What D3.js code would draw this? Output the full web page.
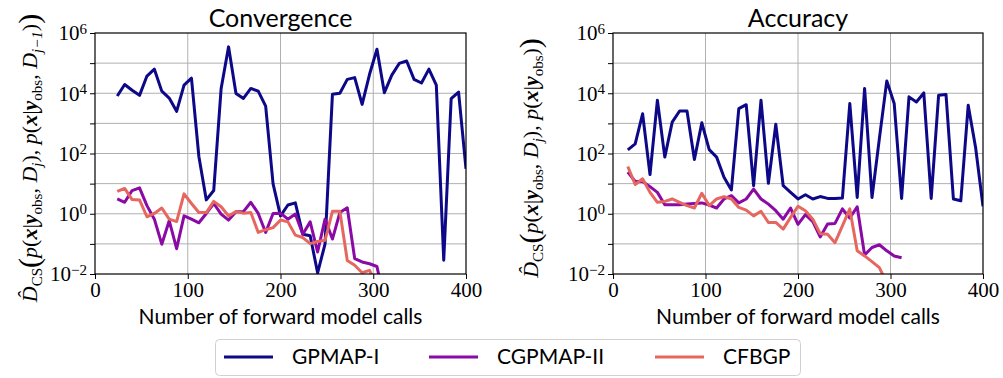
<!DOCTYPE html>
<html lang="en">
<head>
<meta charset="UTF-8">
<title>Convergence / Accuracy</title>
<script src="https://cdn.jsdelivr.net/npm/d3@7"></script>
<style>
body { margin: 0; background: #fff; }
svg { display: block; }
.sans { font-family: Lato, 'Open Sans', sans-serif; fill: #000; }
.num { font-family: 'Liberation Serif', serif; font-size: 21px; fill: #000; }
.math { font-family: 'Liberation Serif', serif; font-size: 22px; fill: #000; }
</style>
</head>
<body>
<script>
// values are log10 of D_CS
// left panel: "Convergence"
const convCalls = [24, 32, 40, 48, 56, 64, 72, 80, 88, 96, 104, 112, 120, 128, 136, 144, 152, 160, 168, 176,
  184, 192, 200, 208, 216, 224, 232, 240, 248, 256, 264, 272, 280, 288, 296, 304, 312, 320, 328, 336,
  344, 352, 360, 368, 376, 384, 392, 400];
const convGpmap = [3.91, 4.29, 4.1, 3.93, 4.57, 4.8, 4.07, 3.84, 3.4, 4.27, 4.5, 1.9, 0.46, 0.77, 4.16, 5.54,
  3.99, 3.83, 4.16, 4.07, 3.57, 0.99, -0.07, 0.29, 0.36, -0.68, -0.73, -1.96, -1.01, 3.97, 4.0, 4.46,
  4.52, 3.63, 4.63, 5.46, 4.02, 4.6, 4.99, 5.07, 4.46, 4.34, 4.8, 4.27, -1.54, 3.82, 4.04, 1.49];
const convCgpmap = [0.49, 0.38, 0.77, 0.86, 0.27, -0.18, -1.01, -0.23, -1.16, -0.07, -0.18, -0.3, 0.01, 0.34,
  -0.01, -0.21, 0.07, 0.07, 0.38, 0.01, -0.62, 0.01, 0.02, -0.18, -0.01, -0.68, -0.27, -1.27, -0.18,
  -0.84, 0.04, 0.2, -1.49, -1.6, -1.66, -1.75, -2.9];
const convCfbgp = [0.74, 0.84, 0.47, 0.46, -0.1, 0.01, 0.19, -0.18, -0.26, 0.66, 0.34, 0.04, 0.04, 0.41, 0.23,
  -0.07, 0.07, 0.02, 0.04, -0.62, -0.53, -0.46, -0.21, -0.27, -0.71, -0.79, -0.99, -0.92, -0.88, 0.08,
  0.08, -1.55, -1.71, -1.96, -1.88, -2.4];

// right panel: "Accuracy"
const accCalls = [16, 24, 32, 40, 48, 56, 64, 72, 80, 88, 96, 104, 112, 120, 128, 136, 144, 152, 160, 168,
  176, 184, 192, 200, 208, 216, 224, 232, 240, 248, 256, 264, 272, 280, 288, 296, 304, 312, 320, 328,
  336, 344, 352, 360, 368, 376, 384, 392, 400];
const accGpmap = [2.12, 2.32, 3.32, 1.3, 3.77, 1.88, 3.04, 3.41, 3.41, 1.8, 3.02, 2.13, 1.88, 1.21, 0.79, 3.49,
  3.62, 0.93, 3.77, 1.01, 2.97, 0.93, 0.71, 0.49, 0.63, 0.49, 0.57, 0.51, 0.51, 0.52, 3.66, 0.54, 4.16,
  0.54, 2.5, 4.41, 3.66, 0.51, 3.88, 3.71, 4.01, 0.51, 3.93, 3.96, 0.49, 0.43, 3.6, 2.2, 0.25];
const accCgpmap = [1.38, 1.07, 1.07, 0.9, 0.71, 0.3, 0.3, 0.3, 0.32, 0.34, 0.36, 0.29, 0.19, 0.49, 0.6, 0.36,
  0.49, 0.82, 0.49, 0.32, 0.1, -0.18, 0.19, -0.35, -0.03, -0.26, -0.77, -0.34, -0.32, 0.16, -0.14, 0.23,
  -1.37, -1.12, -1.03, -1.23, -1.4, -1.46];
const accCfbgp = [1.57, 0.97, 1.16, 0.71, 0.38, 0.41, 0.49, 0.38, 0.27, 0.19, 0.68, 0.27, 0.49, 0.57, 0.49,
  0.21, 0.12, -0.07, 0.08, -0.29, -0.29, -0.51, -0.12, 0.25, 0.1, -0.18, -0.66, -0.68, -0.96, -0.4,
  0.16, -1.23, -1.4, -1.59, -1.79, -2.3];

const seriesNames = ['GPMAP-I', 'CGPMAP-II', 'CFBGP'];
const seriesColors = ['#0d0887', '#8b0aa5', '#e6675f'];
const xTicks = [0, 100, 200, 300, 400];
const yDecades = [-2, -1, 0, 1, 2, 3, 4, 5, 6];

const W = 1003, H = 378;
const svg = d3.select('body').append('svg').attr('width', W).attr('height', H);

// y label pieces, i = italic, b = bold, s = subscript, big = big paren
const hatD = [{t: 'D\u0302', i: 1}, {t: 'CS', s: 1}, {t: '(', big: 1}];
const pxy = [{t: 'p', i: 1}, {t: '('}, {t: 'x', i: 1, b: 1}, {t: '|'}, {t: 'y', i: 1, b: 1}, {t: 'obs', s: 1}];
const convLabel = hatD.concat(pxy, [{t: ', '}, {t: 'D', i: 1}, {t: 'j', i: 1, s: 1}, {t: '), '}],
  pxy, [{t: ', '}, {t: 'D', i: 1}, {t: 'j\u22121', i: 1, s: 1}, {t: ')'}, {t: ')', big: 1}]);
const accLabel = hatD.concat(pxy, [{t: ', '}, {t: 'D', i: 1}, {t: 'j', i: 1, s: 1}, {t: '), '}],
  pxy, [{t: ')'}, {t: ')', big: 1}]);

const panels = [
  {title: 'Convergence', left: 95, right: 466, calls: convCalls, series: [convGpmap, convCgpmap, convCfbgp], label: convLabel, labelX: 37},
  {title: 'Accuracy', left: 613, right: 983, calls: accCalls, series: [accGpmap, accCgpmap, accCfbgp], label: accLabel, labelX: 538}
];
const plotTop = 33, plotBottom = 274;

function mathText(sel, pieces) {
  let shift = 0;
  pieces.forEach(p => {
    const want = p.s ? 5 : (p.big ? 2 : 0);
    const ts = sel.append('tspan').text(p.t).attr('dy', want - shift);
    shift = want;
    if (p.i) ts.attr('font-style', 'italic');
    if (p.b) ts.attr('font-weight', 'bold');
    if (p.s) ts.attr('font-size', 15);
    if (p.big) ts.attr('font-size', 30);
  });
}

panels.forEach((p, pi) => {
  const x = d3.scaleLinear().domain([0, 400]).range([p.left, p.right]);
  const y = d3.scaleLog().domain([1e-2, 1e6]).range([plotBottom, plotTop]);
  const g = svg.append('g');

  // grid
  g.append('g').selectAll('line').data([100, 200, 300]).join('line')
    .attr('x1', d => x(d)).attr('x2', d => x(d)).attr('y1', plotTop).attr('y2', plotBottom)
    .attr('stroke', '#b0b0b0').attr('stroke-width', 1);
  g.append('g').selectAll('line').data(yDecades.slice(1, -1)).join('line')
    .attr('x1', p.left).attr('x2', p.right)
    .attr('y1', d => y(Math.pow(10, d))).attr('y2', d => y(Math.pow(10, d)))
    .attr('stroke', '#b0b0b0').attr('stroke-width', 1);

  // lines
  const clipId = 'clip' + pi;
  svg.append('clipPath').attr('id', clipId).append('rect')
    .attr('x', p.left).attr('y', plotTop).attr('width', p.right - p.left).attr('height', plotBottom - plotTop);
  const line = d3.line().x(d => x(d[0])).y(d => y(Math.pow(10, d[1])));
  p.series.forEach((vals, si) => {
    g.append('path')
      .datum(vals.map((v, i) => [p.calls[i], v]))
      .attr('clip-path', `url(#${clipId})`)
      .attr('fill', 'none')
      .attr('stroke', seriesColors[si])
      .attr('stroke-width', 3)
      .attr('stroke-linejoin', 'round')
      .attr('d', line);
  });

  // frame
  g.append('rect').attr('x', p.left).attr('y', plotTop)
    .attr('width', p.right - p.left).attr('height', plotBottom - plotTop)
    .attr('fill', 'none').attr('stroke', '#000').attr('stroke-width', 1.2);

  // axes
  const xAxis = d3.axisBottom(x).tickValues(xTicks).tickSize(5).tickPadding(3).tickFormat(d3.format('d'));
  g.append('g').attr('transform', `translate(0,${plotBottom})`).call(xAxis)
    .call(a => {
      a.attr('font-family', null).attr('font-size', null);
      a.select('.domain').remove();
      a.selectAll('.tick text').attr('class', 'num').attr('dy', '0.72em');
    });

  const yAxis = d3.axisLeft(y).tickValues(yDecades.map(d => Math.pow(10, d))).tickSize(5).tickPadding(3).tickFormat(() => '');
  g.append('g').attr('transform', `translate(${p.left},0)`).call(yAxis)
    .call(a => {
      a.attr('font-family', null).attr('font-size', null);
      a.select('.domain').remove();
      a.selectAll('.tick text').attr('class', 'num').attr('dy', '0.33em').each(function(d) {
        const e = Math.round(Math.log10(d));
        if (e % 2 !== 0) return;
        const t = d3.select(this);
        t.append('tspan').text('10');
        t.append('tspan').attr('dy', '-0.45em').attr('font-size', 15).text(e < 0 ? '\u2212' + (-e) : e);
      });
    });

  // title and x label
  const cx = (p.left + p.right) / 2;
  g.append('text').attr('class', 'sans').attr('x', cx).attr('y', 27)
    .attr('text-anchor', 'middle').attr('font-size', 25).text(p.title);
  g.append('text').attr('class', 'sans').attr('x', cx).attr('y', 324)
    .attr('text-anchor', 'middle').attr('font-size', 21).text('Number of forward model calls');

  // y label
  const yl = g.append('text').attr('class', 'math')
    .attr('transform', `translate(${p.labelX},158) rotate(-90)`)
    .attr('text-anchor', 'middle');
  mathText(yl, p.label);
});

// legend
const legend = svg.append('g');
legend.append('rect').attr('x', 215.5).attr('y', 339.5).attr('width', 585).attr('height', 36)
  .attr('rx', 4).attr('fill', '#fff').attr('stroke', '#d0d0d0').attr('stroke-width', 1);
const legendX = [224, 429, 655];
seriesNames.forEach((name, i) => {
  legend.append('line').attr('x1', legendX[i]).attr('x2', legendX[i] + 49)
    .attr('y1', 357).attr('y2', 357)
    .attr('stroke', seriesColors[i]).attr('stroke-width', 3);
  legend.append('text').attr('class', 'sans').attr('x', legendX[i] + 68).attr('y', 364)
    .attr('font-size', 21).text(name);
});
</script>
</body>
</html>
